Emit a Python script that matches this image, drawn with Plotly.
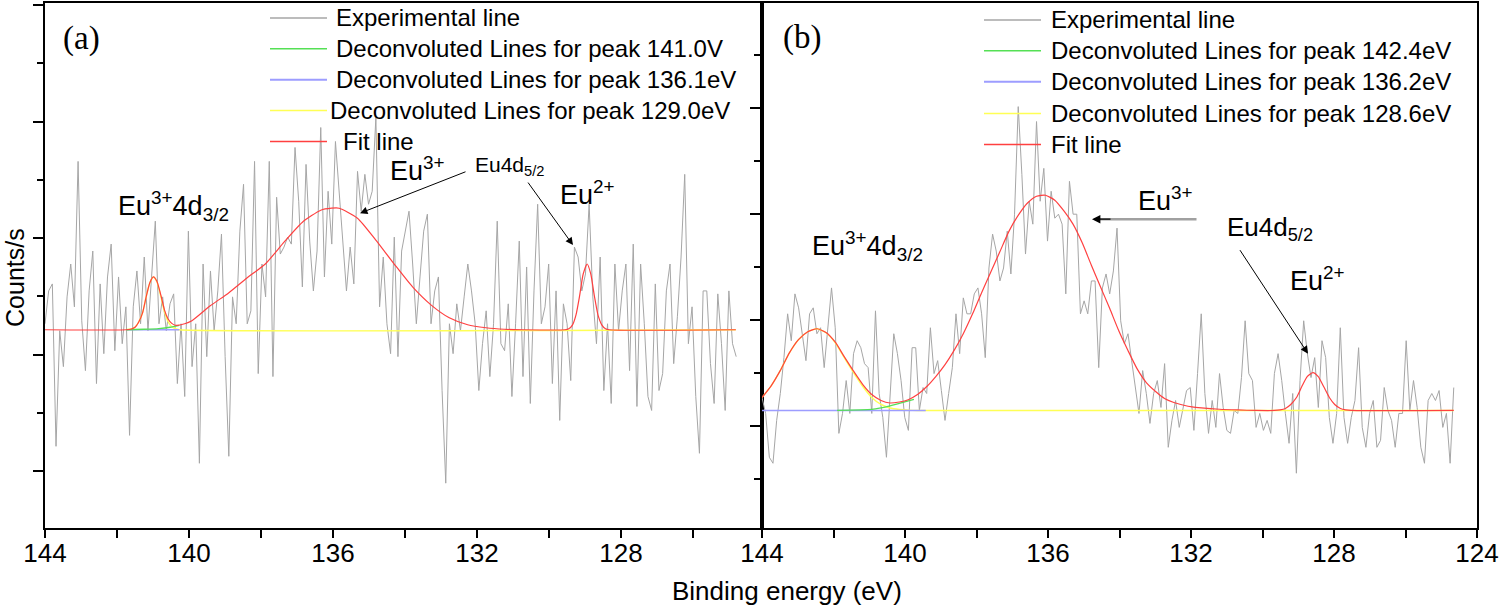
import numpy as np
import plotly.graph_objects as go

# ---------------- data ----------------
# energy grid of the measured spectra
energy_a = np.round(np.linspace(144.0, 124.8, 189), 3)
energy_b = np.round(np.linspace(144.0, 124.65, 190), 3)

# experimental counts, relative to the fitted background
exp_a = [6, 39, 46, -117, -1, -37, 33, 66, 23, 169,
         9, -41, 39, 79, -54, 46, -24, 53, 86, -21,
         53, -14, 23, -106, 23, 59, 6, 73, -1, 59,
         109, 6, 33, -1, 26, 36, -54, 6, -67, 99,
         -37, 6, -134, 66, -27, 59, -1, 39, 96, -27,
         -127, 33, 6, 99, 146, 6, 19, 169, -44, 66,
         33, 169, -47, 133, 76,
         83, 93, 86, 183, 129, 43, 166, 89, 39, 79,
         203, 53, 139, 86, 189, 136, 83, 39, 83, 46,
         159, 119, 156, 126, 139, 213, 23, 73, 6, -24,
         93, -27, 79, 99, 119, 66, 6, 53, 99, 116,
         6, 39, 53, -61, -154, 6, -24, 26, -1, 33,
         66, 39, 6, -61, -14, 19, -47, 6, 109, -14,
         -21, 26, -67, 6,
         89, -47, 63, -74, 39, 126, 6, 23, 66, -54,
         39, -91, 26, 6, -51, 83, 73, 39, 56, 126,
         33, -14, 73, -61, 6, -74, 66, -1, 39, 66,
         -41, 86, -77, 66, 6, -67, -81, 46, -61, -44,
         39, 66, -34, 13, 73, 156, -14, 23, -67, -124,
         39, 39, -34, -74, 36, -14, -81, 39, -14, -27]

exp_b = [13, -3, -47, -53, -10, 17, 53, 97, 70, 117,
         103, 77, 50, 97, 103, 77, 83, 43, 83, 123,
         83, -23, -3, 30, -3, 57, 70, 63, 47, 43,
         -3, 100, 17, -7, -47, 10, 77, 57, 30, -7,
         -20, 63, 63, 0, 23, 17, 83, 37, 50, 20,
         -10, 17, 43, 97, 57, 113, 97, 97, 117, 123,
         97, 53, 143, 177, 160,
         130, 143, 180, 137, 197, 305, 237, 157, 210, 187,
         290, 210, 243, 170, 220, 193, 197, 187, 117, 230,
         197, 197, 97, 110, 97, 130, 130, 43, 123, 137,
         117, 140, 183, 90, 67, 77, 50, 23, -3, 40,
         17, -13, 17, 30, 3, 47, -37, -10, 10, -17,
         3, 20, 23, -20, 37, 97, 17, -23, 10, -17,
         37, 3, -20,
         -23, 0, -3, 33, 90, 37, 30, -17, -3, -20,
         -10, -23, 37, 57, 30, -3, -33, 17, -63, 30,
         90, 57, 33, 53, 3, 70, 53, -7, -33, -3,
         83, -7, -33, -7, 10, 63, -17, -37, -3, 10,
         -37, -30, 23, 0, -10, -37, -3, -3, 70, 0,
         30, 3, -37, -53, 10, 17, 10, 20, -17, -3,
         -53, 23]

# fit line (a)
fit_a_x = [144.0, 141.75, 141.60, 141.50, 141.40, 141.29, 141.19, 141.09, 140.99, 140.89,
           140.78, 140.68, 140.58, 140.48, 140.38, 140.12, 139.92, 139.41, 138.90, 138.39,
           137.88, 137.36, 136.85, 136.34, 136.04, 135.83, 135.32, 134.81, 134.30, 133.79,
           133.28, 132.77, 132.26, 131.75, 131.24, 130.73, 129.56, 129.45, 129.35, 129.25,
           129.15, 129.05, 128.94, 128.84, 128.74, 128.64, 128.53, 128.43, 128.33, 124.81]
fit_a_y = [0, 0, 0.8, 2.5, 7.5, 17, 33, 47, 53, 48.5,
           34.5, 19.7, 10.8, 6.4, 4.5, 6, 9, 24, 37, 52,
           66, 88, 108, 120, 122, 122, 112, 90, 66, 43,
           25, 12, 5, 2, 0.5, 0, 0, 1, 4.7, 15,
           34, 56, 66, 56, 34, 15, 4.7, 1, 0, 0]
# deconvoluted lines (a)
green_a_x = [141.75, 141.24, 140.84, 140.53, 140.27]
green_a_y = [0, 0.5, 1.2, 2.5, 4.5]
blue_a_x = [141.75, 140.27]
blue_a_y = [0, 0]
yellow_a_x = [141.75, 141.60, 141.50, 141.40, 141.29, 141.19, 141.09, 140.99, 140.89, 140.78,
              140.68, 140.58, 140.48, 140.38, 140.27, 124.81]
yellow_a_y = [0, 0.8, 2.5, 7.5, 17, 33, 47, 53, 48, 33,
              18, 8, 3, 1, 0, 0]

# fit line (b)
fit_b_x = [144.0, 143.74, 143.49, 143.23, 142.98, 142.72, 142.46, 142.21, 141.95, 141.70,
           141.44, 141.18, 140.93, 140.67, 140.42, 140.16, 139.91, 139.65, 139.39, 139.14,
           138.88, 138.63, 138.37, 138.11, 137.86, 137.60, 137.35, 137.09, 136.83, 136.58,
           136.32, 136.07, 135.81, 135.55, 135.30, 135.04, 134.79, 134.53, 134.27, 134.02,
           133.76, 133.51, 133.25, 132.99, 132.74, 132.48, 132.23, 131.97, 131.71, 131.20,
           130.69, 130.18, 129.67, 129.51, 129.36, 129.21, 129.05, 128.90, 128.75, 128.59,
           128.44, 128.29, 128.13, 127.98, 127.82, 127.67, 127.52, 124.65]
fit_b_y = [13, 25, 40, 58, 71, 79, 82, 78.3, 68.5, 54,
           39.5, 26, 16, 10, 7.5, 8.5, 10.8, 16, 24, 34,
           46, 60, 77, 97, 118, 139, 159, 180, 196, 208,
           215, 216, 211, 200, 187, 168, 146, 124, 102, 80,
           60, 42, 28, 19, 12, 8, 5.5, 3.5, 2.5, 1.2,
           0.5, 0, 0, 0.6, 2, 6, 13, 24, 34, 38,
           34, 24, 13, 6, 2, 0.6, 0, 0]
# deconvoluted lines (b)
green_b_x = [141.90, 140.93, 140.67, 140.42, 140.16, 139.75]
green_b_y = [0, 1, 2.5, 4.5, 7, 11]
blue_b_x = [144.0, 139.42]
blue_b_y = [0, 0]
yellow_b_x = [144.0, 143.74, 143.49, 143.23, 142.98, 142.72, 142.46, 142.21, 141.95, 141.70,
              141.44, 141.18, 140.93, 140.67, 140.42, 140.16, 139.91, 139.65, 124.65]
yellow_b_y = [13, 25, 40, 58, 71, 79, 82, 78, 68, 53,
              38, 24, 13, 6, 2.5, 1, 0.3, 0, 0]

names_a = ["Experimental line", "Deconvoluted Lines for peak 141.0V",
           "Deconvoluted Lines for peak 136.1eV", "Deconvoluted Lines for peak 129.0eV",
           "Fit line"]
names_b = ["Experimental line", "Deconvoluted Lines for peak 142.4eV",
           "Deconvoluted Lines for peak 136.2eV", "Deconvoluted Lines for peak 128.6eV",
           "Fit line"]

# ---------------- styling ----------------
W, H = 1500, 609
L, R, T, B = 45, 23, 1, 81
PW, PH = W - L - R, H - T - B
SPLIT = 762
dA = (SPLIT - L) / PW

C_EXP = "#a6a6a6"
C_GREEN = "#55e055"
C_BLUE = "#9d9dff"
C_YELLOW = "#ffff55"
C_RED = "#ff4040"
SANS = "Liberation Sans, Arial, sans-serif"
SERIF = "Liberation Serif, Times New Roman, serif"
COLORS = [C_EXP, C_GREEN, C_BLUE, C_YELLOW, C_RED]


def pp(px, py):
    return (px - L) / PW, (H - B - py) / PH


fig = go.Figure()


def add_panel(xa, ya, names, ex, ey, yx, yy, bx, by, gx, gy, fx, fy):
    common = dict(xaxis=xa, yaxis=ya, mode="lines", showlegend=False)
    fig.add_trace(go.Scatter(x=ex, y=ey, name=names[0],
                             line=dict(color=C_EXP, width=1), **common))
    fig.add_trace(go.Scatter(x=yx, y=yy, name=names[3],
                             line=dict(color=C_YELLOW, width=1.4, shape="spline", smoothing=0.6), **common))
    fig.add_trace(go.Scatter(x=bx, y=by, name=names[2],
                             line=dict(color=C_BLUE, width=1.6), **common))
    fig.add_trace(go.Scatter(x=gx, y=gy, name=names[1],
                             line=dict(color=C_GREEN, width=1.3, shape="spline", smoothing=0.6), **common))
    fig.add_trace(go.Scatter(x=fx, y=fy, name=names[4],
                             line=dict(color=C_RED, width=1.2, shape="spline", smoothing=0.6), **common))


add_panel("x", "y", names_a, energy_a, exp_a, yellow_a_x, yellow_a_y,
          blue_a_x, blue_a_y, green_a_x, green_a_y, fit_a_x, fit_a_y)
add_panel("x2", "y2", names_b, energy_b, exp_b, yellow_b_x, yellow_b_y,
          blue_b_x, blue_b_y, green_b_x, green_b_y, fit_b_x, fit_b_y)

axis_common = dict(showline=True, linecolor="black", linewidth=2, mirror=True,
                   showgrid=False, zeroline=False, ticks="outside", tickcolor="black",
                   tickwidth=2)
xfont = dict(family=SANS, size=26, color="black")

fig.update_layout(
    width=W, height=H, margin=dict(l=L, r=R, t=T, b=B),
    paper_bgcolor="white", plot_bgcolor="white", showlegend=False,
    xaxis=dict(domain=[0, dA], range=[144, 144 - (SPLIT - L) / 36.0], anchor="y", dtick=4, tick0=0,
               ticklen=8, tickfont=xfont, ticklabelstandoff=-7,
               minor=dict(dtick=2, tick0=0, ticklen=8, tickwidth=2, tickcolor="black",
                          ticks="outside", showgrid=False),
               **axis_common),
    yaxis=dict(domain=[0, 1], range=[-199, 328], anchor="x", showticklabels=False,
               tick0=92, dtick=117, ticklen=10,
               minor=dict(dtick=58.5, tick0=92, ticklen=6, tickwidth=2, tickcolor="black",
                          ticks="outside", showgrid=False),
               **axis_common),
    xaxis2=dict(domain=[dA, 1], range=[144, 124], anchor="y2", dtick=4, tick0=0,
                ticklen=8, tickfont=xfont, ticklabelstandoff=-7, ticklabeloverflow="allow",
                minor=dict(dtick=2, tick0=0, ticklen=8, tickwidth=2, tickcolor="black",
                           ticks="outside", showgrid=False),
                **axis_common),
    yaxis2=dict(domain=[0, 1], range=[-118, 409], anchor="x2", showticklabels=False,
                tick0=91, dtick=106.5, ticklen=10,
                minor=dict(dtick=53.25, tick0=91, ticklen=6, tickwidth=2, tickcolor="black",
                           ticks="outside", showgrid=False),
                **axis_common),
)

ann = []
shapes = []


def text(px, py, s, size=27, family=SANS, xanchor="left", angle=0):
    x, y = pp(px, py)
    ann.append(dict(x=x, y=y, xref="paper", yref="paper", text=s, showarrow=False,
                    xanchor=xanchor, yanchor="middle", textangle=angle,
                    font=dict(family=family, size=size, color="black")))


def arrow(tail, tip, color="black", width=1, head=2, size=1.5):
    x, y = pp(*tip)
    ann.append(dict(x=x, y=y, xref="paper", yref="paper", text="", showarrow=True,
                    ax=tail[0] - tip[0], ay=tail[1] - tip[1], axref="pixel", ayref="pixel",
                    arrowcolor=color, arrowwidth=width, arrowhead=head, arrowsize=size))


def legend_block(names, x0, x1, text_x, ys):
    for i, (nm, col) in enumerate(zip(names, COLORS)):
        xa, ya = pp(x0, ys[i])
        xb, _ = pp(x1, ys[i])
        shapes.append(dict(type="line", xref="paper", yref="paper", x0=xa, x1=xb,
                           y0=ya, y1=ya, line=dict(color=col, width=2 if i == 2 else 1.5)))
        text(text_x[i], ys[i], nm, size=24)


legend_block(names_a, 270, 327, [334, 334, 334, 328, 341], [16, 47, 78, 109, 140])
legend_block(names_b, 984, 1041, [1049] * 5, [18, 49, 80, 112, 143])

# panel labels
text(81, 37, "(a)", size=33, family=SERIF, xanchor="center")
text(802, 36, "(b)", size=33, family=SERIF, xanchor="center")

# panel (a) annotations
text(116, 205, "Eu<sup>3+</sup>4d<sub>3/2</sub>")
text(388, 168, "Eu<sup>3+</sup>")
text(473, 165, "Eu4d<sub>5/2</sub>", size=21)
text(558, 192, "Eu<sup>2+</sup>")
arrow((467, 170), (360, 212))
arrow((527, 180), (573, 244))

# panel (b) annotations
text(810, 245, "Eu<sup>3+</sup>4d<sub>3/2</sub>")
text(1136, 198, "Eu<sup>3+</sup>")
text(1225, 227, "Eu4d<sub>5/2</sub>", size=26)
text(1288, 278, "Eu<sup>2+</sup>")
arrow((1198, 218), (1100, 218), color="#a0a0a0", width=2.5, head=0)
arrow((1112, 218), (1092, 218), color="black", width=1.2, head=2, size=1.4)
arrow((1239, 248), (1308, 353))

# axis titles
text(787, 591, "Binding energy (eV)", size=26, xanchor="center")
text(15, 277, "Counts/s", size=25, xanchor="center", angle=-90)

fig.update_layout(annotations=ann, shapes=shapes)
fig.write_html("out.html", config={"displayModeBar": False},
               post_script="document.body.style.margin='0px';document.body.style.overflow='hidden';")
